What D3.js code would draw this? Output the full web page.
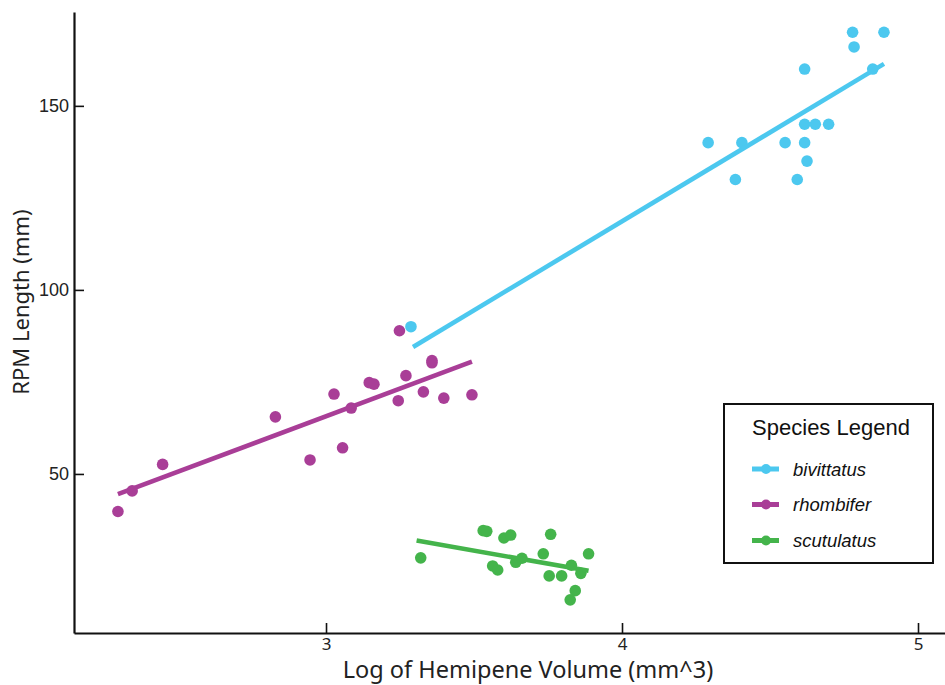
<!DOCTYPE html>
<meta charset="utf-8" />
<title>RPM length vs hemipene volume</title>
<script src="https://d3js.org/d3.v7.min.js"></script>
<style>
  body { margin: 0; background: #fff; }
  svg { display: block; }
  .title { font-family: "Noto Sans", "Open Sans", sans-serif; fill: #222; }
  .legend text { font-family: "Liberation Sans", Arial, sans-serif; fill: #111; }
</style>
<div id="chart"></div>
<script>
  var width = 945, height = 685;

  // species + colours
  var species = ["bivittatus", "rhombifer", "scutulatus"];
  var colors = ["#4cc8ef", "#a93e97", "#44b44b"];

  // bivittatus points
  var bivX = [3.287, 4.291, 4.405, 4.551, 4.617, 4.617, 4.653, 4.698, 4.625, 4.383, 4.592, 4.617, 4.847, 4.779, 4.885, 4.784];
  var bivY = [90, 140, 140, 140, 140, 145, 145, 145, 135, 130, 130, 160, 160, 170, 170, 166];

  // rhombifer points
  var rhoX = [2.297, 2.345, 2.448, 2.829, 2.946, 3.027, 3.056, 3.085, 3.146, 3.162, 3.244, 3.248, 3.270, 3.329, 3.358, 3.358, 3.398, 3.493];
  var rhoY = [39.8, 45.4, 52.6, 65.5, 53.8, 71.7, 57.1, 67.9, 74.8, 74.4, 69.9, 88.9, 76.7, 72.3, 80.8, 80.2, 70.6, 71.5];

  // scutulatus points
  var scuX = [3.320, 3.531, 3.543, 3.563, 3.580, 3.601, 3.624, 3.641, 3.662, 3.734, 3.759, 3.754, 3.796, 3.829, 3.861, 3.842, 3.825, 3.887];
  var scuY = [27.2, 34.6, 34.4, 25.0, 23.9, 32.6, 33.4, 26.0, 27.1, 28.3, 33.6, 22.3, 22.3, 25.2, 23.0, 18.3, 15.8, 28.3];

  // fitted lines (start, end)
  var fitX = [[3.294, 4.885], [2.297, 3.493], [3.306, 3.887]];
  var fitY = [[84.5, 161.4], [44.5, 80.5], [31.9, 23.7]];

  var xTicks = [3, 4, 5];
  var yTicks = [50, 100, 150];

  var seriesX = [bivX, rhoX, scuX];
  var seriesY = [bivY, rhoY, scuY];

  var svg = d3.select("#chart").append("svg")
    .attr("width", width)
    .attr("height", height);

  svg.append("rect").attr("width", width).attr("height", height).attr("fill", "#fff");

  var x = d3.scaleLinear().domain([2.1486, 5.0912]).range([74, 945]);
  var y = d3.scaleLinear().domain([6.79, 175.5]).range([633, 12]);

  // axes, ticks pointing inward
  var xAxis = svg.append("g")
    .attr("transform", "translate(0,633)")
    .call(d3.axisBottom(x).tickValues(xTicks).tickFormat(d3.format("d"))
      .tickSizeInner(-10).tickSizeOuter(0).tickPadding(5));
  var yAxis = svg.append("g")
    .attr("transform", "translate(74,0)")
    .call(d3.axisLeft(y).tickValues(yTicks).tickFormat(d3.format("d"))
      .tickSizeInner(-10).tickSizeOuter(0).tickPadding(5));

  [xAxis, yAxis].forEach(function (g) {
    g.attr("font-size", null).attr("font-family", null);
    g.select(".domain").attr("stroke", "#111").attr("stroke-width", 2.2);
    g.selectAll(".tick line").attr("stroke", "#111").attr("stroke-width", 1.6);
  });
  yAxis.selectAll(".tick text")
    .style("font-family", "'Liberation Sans', Arial, sans-serif")
    .style("font-size", "18px").attr("fill", "#222");
  xAxis.selectAll(".tick text")
    .style("font-family", "'Noto Sans', 'Open Sans', sans-serif")
    .style("font-size", "17px").attr("fill", "#222");

  // axis titles
  svg.append("text").attr("class", "title")
    .attr("x", 528).attr("y", 678)
    .attr("text-anchor", "middle")
    .style("font-size", "23.5px")
    .text("Log of Hemipene Volume (mm^3)");
  svg.append("text").attr("class", "title")
    .attr("transform", "translate(29,302) rotate(-90)")
    .attr("text-anchor", "middle")
    .style("font-size", "22px")
    .text("RPM Length (mm)");

  // points + fit lines
  species.forEach(function (s, i) {
    var pts = seriesX[i].map(function (v, j) { return [v, seriesY[i][j]]; });
    svg.append("g").selectAll("circle")
      .data(pts)
      .enter().append("circle")
      .attr("cx", function (d) { return x(d[0]); })
      .attr("cy", function (d) { return y(d[1]); })
      .attr("r", 5.8)
      .attr("fill", colors[i]);

    var fit = fitX[i].map(function (v, j) { return [v, fitY[i][j]]; });
    svg.append("path")
      .datum(fit)
      .attr("fill", "none")
      .attr("stroke", colors[i])
      .attr("stroke-width", 4.6)
      .attr("d", d3.line().x(function (d) { return x(d[0]); }).y(function (d) { return y(d[1]); }));
  });

  // legend
  var legend = svg.append("g").attr("class", "legend");
  legend.append("rect")
    .attr("x", 724).attr("y", 404).attr("width", 209).attr("height", 159)
    .attr("fill", "#fff").attr("stroke", "#111").attr("stroke-width", 2);
  legend.append("text")
    .attr("x", 831).attr("y", 435)
    .attr("text-anchor", "middle")
    .style("font-size", "22px")
    .text("Species Legend");

  var rowY = [469, 504.5, 540.5];
  species.forEach(function (s, i) {
    var row = legend.append("g").attr("transform", "translate(0," + rowY[i] + ")");
    row.append("line").attr("x1", 752).attr("x2", 779)
      .attr("stroke", colors[i]).attr("stroke-width", 5);
    row.append("circle").attr("cx", 766).attr("r", 5).attr("fill", colors[i]);
    row.append("text").attr("x", 793).attr("y", 6.5)
      .style("font-size", "18.5px").style("font-style", "italic")
      .text(s);
  });
</script>
